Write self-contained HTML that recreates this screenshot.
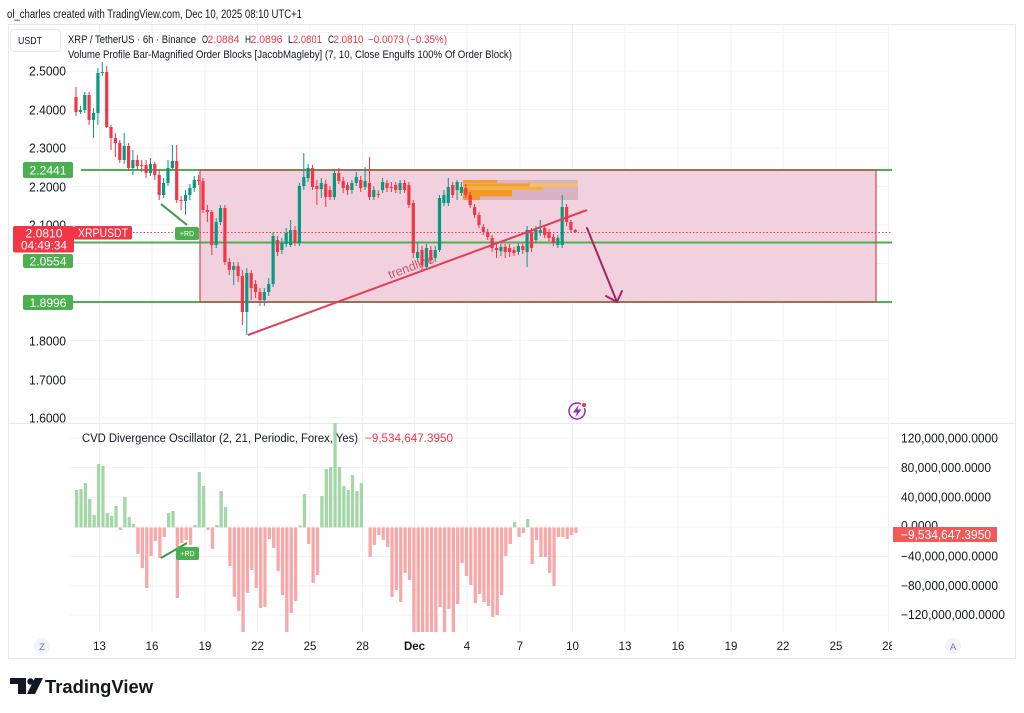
<!DOCTYPE html>
<html><head><meta charset="utf-8"><style>
html,body{margin:0;padding:0;background:#fff;}
svg{display:block;font-family:"Liberation Sans",Arial,sans-serif;}
</style></head><body>
<svg width="1024" height="713" viewBox="0 0 1024 713" xmlns="http://www.w3.org/2000/svg">
<rect width="1024" height="713" fill="#fff"/>
<text x="7" y="18" font-size="11.5" fill="#131722" textLength="295" lengthAdjust="spacingAndGlyphs">ol_charles created with TradingView.com, Dec 10, 2025 08:10 UTC+1</text>

<!-- frame -->
<rect x="8.5" y="24.5" width="1007" height="634" fill="none" stroke="#e6e8ee"/>
<line x1="8.5" y1="423.5" x2="1015.5" y2="423.5" stroke="#e6e8ee"/>

<!-- grid -->
<g stroke="#f0f2f6" stroke-width="1" fill="none">
<path d="M99.5 25V632M152 25V632M205 25V632M257.5 25V632M310 25V632M362.5 25V632M414.5 25V632M467 25V632M520 25V632M572.5 25V632M625 25V632M678 25V632M731 25V632M783 25V632M836 25V632M888.5 25V632"/>
<path d="M70 32.5H890M70 71H890M70 109.5H890M70 148H890M70 186.5H890M70 225H890M70 263.5H890M70 302H890M70 340.5H890M70 379H890M70 417.5H890"/>
<path d="M70 438H890M70 467.5H890M70 497H890M70 527H890M70 556.5H890M70 586H890M70 615H890"/>
</g>

<!-- order block box fill -->
<rect x="200" y="170" width="676" height="132" fill="#f2d1de"/>

<!-- volume profile -->
<rect x="463" y="180" width="115" height="20" fill="#d9b3c4"/>
<g>
<rect x="463" y="180" width="34" height="3" fill="#f0a030"/>
<rect x="463" y="183.5" width="115" height="3" fill="#f6c25a"/>
<rect x="463" y="183.5" width="67" height="3" fill="#f5a028"/>
<rect x="463" y="187" width="80" height="3" fill="#f6b040"/>
<rect x="463" y="190" width="49" height="3" fill="#f39a22"/>
<rect x="463" y="193" width="49" height="3.5" fill="#f39a22"/>
<rect x="463" y="196.5" width="17" height="3.5" fill="#f39a22"/>
</g>

<!-- green levels -->
<g stroke="#4caf50" stroke-width="2">
<line x1="81" y1="170" x2="892" y2="170"/>
<line x1="70" y1="242.5" x2="892" y2="242.5"/>
<line x1="73" y1="302" x2="892" y2="302"/>
</g>
<!-- box border -->
<rect x="200" y="170" width="676" height="132" fill="none" stroke="#c8485a" stroke-opacity="0.8" stroke-width="1.5"/>

<!-- current price dotted -->
<line x1="133" y1="232.5" x2="892" y2="232.5" stroke="#f23645" stroke-width="1" stroke-dasharray="1.5,2"/>

<!-- trendline text -->
<text x="390" y="279" font-size="12.5" fill="#c8556f" transform="rotate(-20.3 390 279)">trendline</text>

<!-- candles red -->
<g stroke="#f23645" stroke-width="1" fill="none">
<path d="M76 87V116M89.1 92V125M106.7 66V128M111 125V150M115.4 133V157M119.8 140V163M128.6 143V171M137.3 155V170M141.7 160V172M146.1 160V178M154.8 162V180M159.2 170V200M176.7 145V203M181.1 196V210M198.6 175V185M203 178V213M207.4 205V222M211.8 210V255M224.9 205V265M229.3 258V275M238.1 262V282M242.4 270V325M251.2 270V300M255.6 280V298M260 288V306M277.5 236V256M295 226V246M312.5 165V190M316.9 180V205M325.7 180V207M330 186V200M338.8 168V184M343.2 177V193M347.6 182V195M360.7 176V192M369.5 157V200M378.2 190V198M387 180V192M391.4 182V192M395.7 182V193M404.5 180V193M408.9 182V208M413.3 200V258M422 246V270M430.8 246V264M452.7 182V198M465.8 184V198M470.2 192V208M474.6 204V218M479 212V228M483.3 224V235M487.7 229V240M492.1 235V252M496.5 244V258M505.2 244V258M509.6 244V257M514 247V256M522.8 243V254M531.5 228V252M544.7 225V238M549 229V241M553.4 234V246M566.6 204V226M570.9 220V233M575.3 229V233"/>
</g>
<path fill="#f23645" d="M74.4 97h3.2v15h-3.2zM87.5 95h3.2v25h-3.2zM105.1 72h3.2v55h-3.2zM109.4 127h3.2v11h-3.2zM113.8 138h3.2v5h-3.2zM118.2 143h3.2v17h-3.2zM127 146h3.2v22h-3.2zM135.7 160h3.2v6h-3.2zM140.1 165h3.2v1h-3.2zM144.5 165h3.2v8h-3.2zM153.2 164h3.2v11h-3.2zM157.6 175h3.2v20h-3.2zM175.1 161h3.2v39h-3.2zM179.5 200h3.2v1h-3.2zM197 180h3.2v1h-3.2zM201.4 181h3.2v29h-3.2zM205.8 210h3.2v2h-3.2zM210.2 212h3.2v33h-3.2zM223.3 208h3.2v54h-3.2zM227.7 262h3.2v8h-3.2zM236.5 266h3.2v10h-3.2zM240.8 276h3.2v36h-3.2zM249.6 273h3.2v15h-3.2zM254 284h3.2v8h-3.2zM258.4 292h3.2v8h-3.2zM275.9 240h3.2v12h-3.2zM293.4 230h3.2v13h-3.2zM310.9 168h3.2v19h-3.2zM315.3 186h3.2v3h-3.2zM324.1 184h3.2v13h-3.2zM328.4 190h3.2v7h-3.2zM337.2 173h3.2v8h-3.2zM341.6 181h3.2v7h-3.2zM346 185h3.2v5h-3.2zM359.1 180h3.2v8h-3.2zM367.9 183h3.2v14h-3.2zM376.6 194h3.2v1h-3.2zM385.4 183h3.2v5h-3.2zM389.8 187h3.2v1h-3.2zM394.1 185h3.2v5h-3.2zM402.9 183h3.2v7h-3.2zM407.3 185h3.2v20h-3.2zM411.7 203h3.2v50h-3.2zM420.4 250h3.2v15h-3.2zM429.2 250h3.2v10h-3.2zM451.1 185h3.2v10h-3.2zM464.2 188h3.2v7h-3.2zM468.6 195h3.2v10h-3.2zM473 207h3.2v8h-3.2zM477.4 215h3.2v10h-3.2zM481.7 227h3.2v5h-3.2zM486.1 232h3.2v5h-3.2zM490.5 238h3.2v10h-3.2zM494.9 248h3.2v2h-3.2zM503.6 247h3.2v5h-3.2zM508 248h3.2v4h-3.2zM512.4 250h3.2v3h-3.2zM521.2 246h3.2v4h-3.2zM529.9 232h3.2v16h-3.2zM543.1 228h3.2v7h-3.2zM547.4 232h3.2v6h-3.2zM551.8 237h3.2v6h-3.2zM565 207h3.2v15h-3.2zM569.3 222h3.2v8h-3.2zM573.7 230h3.2v2h-3.2z"/>
<!-- candles green -->
<g stroke="#089981" stroke-width="1" fill="none">
<path d="M80.4 106V114M84.8 92V113M93.5 108V138M97.9 68V125M102.3 62V76M124.2 133V164M132.9 150V175M150.5 158V176M163.6 178V198M168 160V186M172.4 145V170M185.5 190V215M189.9 184V200M194.3 176V192M216.2 218V248M220.5 205V225M233.7 262V285M246.8 268V335M264.3 288V306M268.7 278V296M273.1 232V287M281.9 238V254M286.2 228V247M290.6 220V247M299.4 183V246M303.8 153V190M308.1 164V182M321.3 178V198M334.4 170V200M351.9 180V194M356.3 172V186M365.1 167V190M373.8 186V200M382.6 178V193M400.1 180V194M417.6 243V262M426.4 244V270M435.2 246V262M439.5 195V252M443.9 190V206M448.3 178V206M457.1 180V200M461.4 182V196M500.9 244V256M518.4 243V255M527.1 226V267M535.9 226V243M540.3 220V236M557.8 235V248M562.2 195V248"/>
</g>
<path fill="#089981" d="M78.8 110h3.2v2h-3.2zM83.2 95h3.2v15h-3.2zM91.9 113h3.2v7h-3.2zM96.3 73h3.2v40h-3.2zM100.7 72h3.2v1h-3.2zM122.6 146h3.2v14h-3.2zM131.3 160h3.2v8h-3.2zM148.9 164h3.2v9h-3.2zM162 183h3.2v12h-3.2zM166.4 168h3.2v15h-3.2zM170.8 161h3.2v7h-3.2zM183.9 195h3.2v6h-3.2zM188.3 188h3.2v7h-3.2zM192.7 180h3.2v8h-3.2zM214.6 222h3.2v23h-3.2zM218.9 208h3.2v14h-3.2zM232.1 266h3.2v4h-3.2zM245.2 273h3.2v39h-3.2zM262.7 292h3.2v8h-3.2zM267.1 284h3.2v8h-3.2zM271.5 236h3.2v48h-3.2zM280.3 243h3.2v7h-3.2zM284.6 233h3.2v11h-3.2zM289 230h3.2v15h-3.2zM297.8 186h3.2v57h-3.2zM302.2 177h3.2v9h-3.2zM306.5 168h3.2v10h-3.2zM319.7 183h3.2v6h-3.2zM332.8 173h3.2v24h-3.2zM350.3 183h3.2v7h-3.2zM354.7 177h3.2v6h-3.2zM363.5 181h3.2v6h-3.2zM372.2 190h3.2v7h-3.2zM381 182h3.2v8h-3.2zM398.5 183h3.2v7h-3.2zM416 252h3.2v6h-3.2zM424.8 248h3.2v19h-3.2zM433.6 250h3.2v8h-3.2zM437.9 198h3.2v52h-3.2zM442.3 195h3.2v8h-3.2zM446.7 187h3.2v16h-3.2zM455.5 182h3.2v8h-3.2zM459.8 187h3.2v6h-3.2zM499.3 247h3.2v4h-3.2zM516.8 246h3.2v6h-3.2zM525.5 230h3.2v22h-3.2zM534.3 230h3.2v10h-3.2zM538.7 230h3.2v3h-3.2zM556.2 238h3.2v7h-3.2zM560.6 207h3.2v38h-3.2z"/>

<!-- trendline -->
<line x1="248" y1="335" x2="587" y2="210" stroke="#e23c5a" stroke-width="2"/>
<!-- arrow -->
<g stroke="#a3245f" stroke-width="2" fill="none" stroke-linecap="round" stroke-linejoin="round">
<path d="M587 228L617 302"/>
<path d="M606 296L617 302L622 291"/>
</g>

<!-- +RD price pane -->
<line x1="161" y1="204" x2="187" y2="225" stroke="#3a9a3e" stroke-width="2"/>
<rect x="175" y="227" width="24" height="13" rx="2" fill="#4caf50"/>
<text x="187" y="236" font-size="7" fill="#fff" text-anchor="middle">+RD</text>

<!-- left axis labels -->
<g font-size="12.5" fill="#131722" text-anchor="end">
<text x="66" y="75.5" textLength="37" lengthAdjust="spacingAndGlyphs">2.5000</text>
<text x="66" y="114.5" textLength="37" lengthAdjust="spacingAndGlyphs">2.4000</text>
<text x="66" y="152.5" textLength="37" lengthAdjust="spacingAndGlyphs">2.3000</text>
<text x="66" y="191.5" textLength="37" lengthAdjust="spacingAndGlyphs">2.2000</text>
<text x="66" y="229.5" textLength="37" lengthAdjust="spacingAndGlyphs">2.1000</text>
<text x="66" y="345.5" textLength="37" lengthAdjust="spacingAndGlyphs">1.8000</text>
<text x="66" y="384.5" textLength="37" lengthAdjust="spacingAndGlyphs">1.7000</text>
<text x="66" y="422.5" textLength="37" lengthAdjust="spacingAndGlyphs">1.6000</text>
</g>

<!-- level labels -->
<rect x="23" y="162" width="50" height="16" rx="2" fill="#4caf50"/>
<text x="48" y="174.5" font-size="12" fill="#fff" text-anchor="middle" textLength="37" lengthAdjust="spacingAndGlyphs">2.2441</text>
<rect x="23" y="254" width="50" height="14" rx="2" fill="#4caf50"/>
<text x="48" y="265.5" font-size="12" fill="#fff" text-anchor="middle" textLength="37" lengthAdjust="spacingAndGlyphs">2.0554</text>
<rect x="23" y="295" width="50" height="15" rx="2" fill="#4caf50"/>
<text x="48" y="307" font-size="12" fill="#fff" text-anchor="middle" textLength="37" lengthAdjust="spacingAndGlyphs">1.8996</text>
<rect x="13" y="226" width="61" height="26.5" rx="2" fill="#f23645"/>
<text x="44" y="237.5" font-size="12" fill="#fff" text-anchor="middle" textLength="37" lengthAdjust="spacingAndGlyphs">2.0810</text>
<text x="44" y="249.5" font-size="12" fill="#fff" text-anchor="middle" textLength="46" lengthAdjust="spacingAndGlyphs">04:49:34</text>
<rect x="74" y="226" width="58" height="13.5" rx="2" fill="#f23645"/>
<text x="103" y="237" font-size="12" fill="#fff" text-anchor="middle" textLength="50" lengthAdjust="spacingAndGlyphs">XRPUSDT</text>

<!-- USDT box -->
<rect x="10.5" y="29.5" width="50" height="22" rx="4" fill="#fff" stroke="#e6e8ee"/>
<text x="18" y="44" font-size="10.5" fill="#131722" textLength="24" lengthAdjust="spacingAndGlyphs">USDT</text>

<!-- legend -->
<g font-size="11" fill="#131722">
<text x="68" y="43" textLength="128" lengthAdjust="spacingAndGlyphs">XRP / TetherUS · 6h · Binance</text>
<text x="202" y="43" textLength="6" lengthAdjust="spacingAndGlyphs">O</text>
<text x="207.5" y="43" fill="#f23645" textLength="32" lengthAdjust="spacingAndGlyphs">2.0884</text>
<text x="245" y="43" textLength="6" lengthAdjust="spacingAndGlyphs">H</text>
<text x="250.5" y="43" fill="#f23645" textLength="32" lengthAdjust="spacingAndGlyphs">2.0896</text>
<text x="288" y="43" textLength="5" lengthAdjust="spacingAndGlyphs">L</text>
<text x="293" y="43" fill="#f23645" textLength="29" lengthAdjust="spacingAndGlyphs">2.0801</text>
<text x="328" y="43" textLength="6" lengthAdjust="spacingAndGlyphs">C</text>
<text x="333.5" y="43" fill="#f23645" textLength="30" lengthAdjust="spacingAndGlyphs">2.0810</text>
<text x="368" y="43" fill="#f23645" textLength="79" lengthAdjust="spacingAndGlyphs">−0.0073 (−0.35%)</text>
<text x="68" y="58" textLength="444" lengthAdjust="spacingAndGlyphs">Volume Profile Bar-Magnified Order Blocks [JacobMagleby] (7, 10, Close Engulfs 100% Of Order Block)</text>
</g>

<!-- lightning icon -->
<circle cx="577" cy="411" r="8" fill="#fff" stroke="#9c27b0" stroke-width="1.5"/>
<path d="M578.5 405L573 412.5H577L575 417.5L581.5 409.5H577.5Z" fill="#9c27b0"/>
<circle cx="584" cy="405" r="2.6" fill="#f23645" stroke="#fff" stroke-width="1"/>

<!-- oscillator bars -->
<path fill="#a5d6a7" d="M75 490h3.3V527.5h-3.3zM79.4 489h3.3V527.5h-3.3zM83.8 483h3.3V527.5h-3.3zM88.1 499h3.3V527.5h-3.3zM92.5 515h3.3V527.5h-3.3zM96.9 464h3.3V527.5h-3.3zM101.3 466h3.3V527.5h-3.3zM105.7 513h3.3V527.5h-3.3zM110 516h3.3V527.5h-3.3zM114.4 506h3.3V527.5h-3.3zM123.2 497h3.3V527.5h-3.3zM127.6 517h3.3V527.5h-3.3zM131.9 524h3.3V527.5h-3.3zM167 513h3.3V527.5h-3.3zM171.4 511h3.3V527.5h-3.3zM193.3 525h3.3V527.5h-3.3zM197.6 472h3.3V527.5h-3.3zM202 486h3.3V527.5h-3.3zM215.2 525h3.3V527.5h-3.3zM219.5 491h3.3V527.5h-3.3zM223.9 507h3.3V527.5h-3.3zM298.4 525.5h3.3V527.5h-3.3zM302.8 494h3.3V527.5h-3.3zM320.3 496h3.3V527.5h-3.3zM324.7 469h3.3V527.5h-3.3zM329 467h3.3V527.5h-3.3zM333.4 423h3.3V527.5h-3.3zM337.8 467h3.3V527.5h-3.3zM342.2 486h3.3V527.5h-3.3zM346.6 490h3.3V527.5h-3.3zM350.9 475h3.3V527.5h-3.3zM355.3 491h3.3V527.5h-3.3zM359.7 483h3.3V527.5h-3.3zM513 522h3.3V527.5h-3.3zM526.1 519h3.3V527.5h-3.3z"/>
<path fill="#f8a8a8" d="M118.8 527.5h3.3V530h-3.3zM136.3 527.5h3.3V554h-3.3zM140.7 527.5h3.3V568h-3.3zM145.1 527.5h3.3V588h-3.3zM149.5 527.5h3.3V556h-3.3zM153.8 527.5h3.3V541h-3.3zM158.2 527.5h3.3V558h-3.3zM162.6 527.5h3.3V537h-3.3zM175.7 527.5h3.3V598h-3.3zM180.1 527.5h3.3V543h-3.3zM184.5 527.5h3.3V540h-3.3zM188.9 527.5h3.3V545h-3.3zM206.4 527.5h3.3V530h-3.3zM210.8 527.5h3.3V549h-3.3zM228.3 527.5h3.3V566h-3.3zM232.7 527.5h3.3V597h-3.3zM237.1 527.5h3.3V611h-3.3zM241.4 527.5h3.3V632h-3.3zM245.8 527.5h3.3V593h-3.3zM250.2 527.5h3.3V570h-3.3zM254.6 527.5h3.3V588h-3.3zM259 527.5h3.3V608h-3.3zM263.3 527.5h3.3V607h-3.3zM267.7 527.5h3.3V539h-3.3zM272.1 527.5h3.3V548h-3.3zM276.5 527.5h3.3V571h-3.3zM280.9 527.5h3.3V595h-3.3zM285.2 527.5h3.3V632h-3.3zM289.6 527.5h3.3V613h-3.3zM294 527.5h3.3V601h-3.3zM307.1 527.5h3.3V544h-3.3zM311.5 527.5h3.3V583h-3.3zM315.9 527.5h3.3V575h-3.3zM368.5 527.5h3.3V557h-3.3zM372.8 527.5h3.3V545h-3.3zM377.2 527.5h3.3V535h-3.3zM381.6 527.5h3.3V540h-3.3zM386 527.5h3.3V547h-3.3zM390.4 527.5h3.3V597h-3.3zM394.7 527.5h3.3V590h-3.3zM399.1 527.5h3.3V602h-3.3zM403.5 527.5h3.3V573h-3.3zM407.9 527.5h3.3V580h-3.3zM412.3 527.5h3.3V632h-3.3zM416.6 527.5h3.3V632h-3.3zM421 527.5h3.3V632h-3.3zM425.4 527.5h3.3V632h-3.3zM429.8 527.5h3.3V632h-3.3zM434.2 527.5h3.3V632h-3.3zM438.5 527.5h3.3V607h-3.3zM442.9 527.5h3.3V632h-3.3zM447.3 527.5h3.3V609h-3.3zM451.7 527.5h3.3V632h-3.3zM456.1 527.5h3.3V604h-3.3zM460.4 527.5h3.3V563h-3.3zM464.8 527.5h3.3V576h-3.3zM469.2 527.5h3.3V585h-3.3zM473.6 527.5h3.3V603h-3.3zM478 527.5h3.3V594h-3.3zM482.3 527.5h3.3V602h-3.3zM486.7 527.5h3.3V606h-3.3zM491.1 527.5h3.3V617h-3.3zM495.5 527.5h3.3V615h-3.3zM499.9 527.5h3.3V595h-3.3zM504.2 527.5h3.3V556h-3.3zM508.6 527.5h3.3V544h-3.3zM517.4 527.5h3.3V537h-3.3zM521.8 527.5h3.3V533h-3.3zM530.5 527.5h3.3V564h-3.3zM534.9 527.5h3.3V540h-3.3zM539.3 527.5h3.3V557h-3.3zM543.7 527.5h3.3V557h-3.3zM548 527.5h3.3V573h-3.3zM552.4 527.5h3.3V586h-3.3zM556.8 527.5h3.3V537h-3.3zM561.2 527.5h3.3V537h-3.3zM565.6 527.5h3.3V539h-3.3zM569.9 527.5h3.3V535h-3.3zM574.3 527.5h3.3V533h-3.3z"/>

<!-- +RD osc -->
<line x1="161" y1="558" x2="187" y2="543" stroke="#3a9a3e" stroke-width="2"/>
<rect x="176" y="547" width="23" height="13" rx="2" fill="#4caf50"/>
<text x="187.5" y="556" font-size="7" fill="#fff" text-anchor="middle">+RD</text>

<!-- osc legend -->
<text x="82" y="442" font-size="11.5" fill="#131722" textLength="276" lengthAdjust="spacingAndGlyphs">CVD Divergence Oscillator (2, 21, Periodic, Forex, Yes)</text>
<text x="365" y="442" font-size="11.5" fill="#f23645" textLength="88" lengthAdjust="spacingAndGlyphs">−9,534,647.3950</text>

<!-- osc axis -->
<g font-size="12.5" fill="#131722">
<text x="901" y="442.5" textLength="97" lengthAdjust="spacingAndGlyphs">120,000,000.0000</text>
<text x="901" y="472" textLength="90" lengthAdjust="spacingAndGlyphs">80,000,000.0000</text>
<text x="901" y="501.5" textLength="90" lengthAdjust="spacingAndGlyphs">40,000,000.0000</text>
<text x="901" y="530" textLength="37" lengthAdjust="spacingAndGlyphs">0.0000</text>
<text x="901" y="560.5" textLength="97" lengthAdjust="spacingAndGlyphs">−40,000,000.0000</text>
<text x="901" y="590" textLength="97" lengthAdjust="spacingAndGlyphs">−80,000,000.0000</text>
<text x="901" y="619" textLength="104" lengthAdjust="spacingAndGlyphs">−120,000,000.0000</text>
</g>
<rect x="893" y="527" width="104" height="15" fill="#f25a5a"/>
<text x="901" y="539" font-size="12.5" fill="#fff" textLength="90" lengthAdjust="spacingAndGlyphs">−9,534,647.3950</text>

<!-- time axis -->
<circle cx="42" cy="646" r="8" fill="#f0f3fa"/>
<text x="42" y="650" font-size="9.5" fill="#787b86" text-anchor="middle">Z</text>
<circle cx="953" cy="646" r="8" fill="#f0f3fa"/>
<text x="953" y="650" font-size="9.5" fill="#787b86" text-anchor="middle">A</text>
<svg x="60" y="634" width="832" height="24" overflow="hidden">
<g font-size="11.5" fill="#131722" text-anchor="middle" transform="translate(-60,-634)">
<text x="99.5" y="650">13</text>
<text x="152" y="650">16</text>
<text x="205" y="650">19</text>
<text x="257.5" y="650">22</text>
<text x="310" y="650">25</text>
<text x="362.5" y="650">28</text>
<text x="414.5" y="650" font-weight="bold">Dec</text>
<text x="467" y="650">4</text>
<text x="520" y="650">7</text>
<text x="572.5" y="650">10</text>
<text x="625" y="650">13</text>
<text x="678" y="650">16</text>
<text x="731" y="650">19</text>
<text x="783" y="650">22</text>
<text x="836" y="650">25</text>
<text x="888.5" y="650">28</text>
</g>
</svg>

<!-- TradingView logo -->
<g fill="#131722">
<path d="M10 678H26V694H18V684H10Z"/>
<circle cx="30.5" cy="681.5" r="3.2"/>
<path d="M35 678H43L35 694H27Z"/>
</g>
<text x="45" y="693" font-size="18" font-weight="bold" fill="#131722" textLength="108" lengthAdjust="spacingAndGlyphs">TradingView</text>
</svg>
</body></html>
